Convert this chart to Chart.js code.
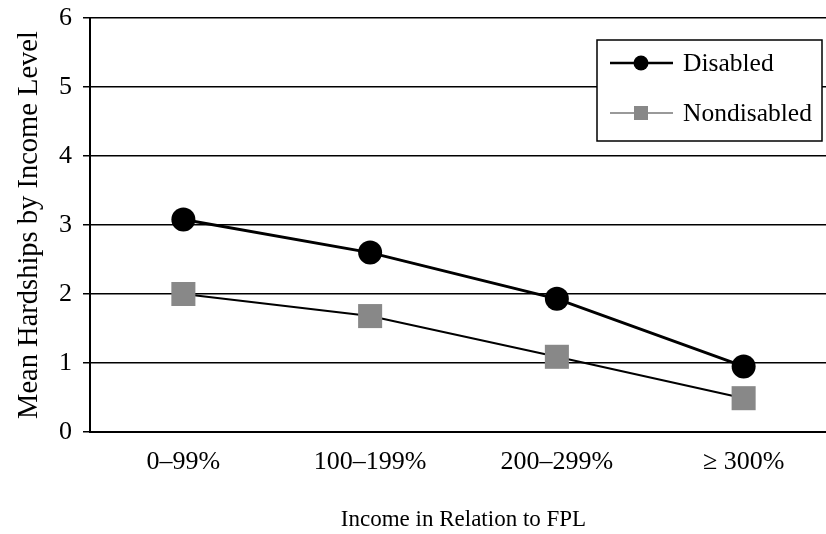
<!DOCTYPE html>
<html>
<head>
<meta charset="utf-8">
<script src="https://cdn.jsdelivr.net/npm/chart.js@4/dist/chart.umd.min.js"></script>
<style>
html,body{margin:0;padding:0;background:#fff;overflow:hidden;width:826px;height:534px;}
#c{display:block;}
</style>
</head>
<body>
<canvas id="c" width="854" height="534"></canvas>
<script>
const categories = ["0\u201399%", "100\u2013199%", "200\u2013299%", "\u2265 300%"];
const disabled = [3.08, 2.60, 1.93, 0.95];
const nondisabled = [2.00, 1.68, 1.09, 0.49];
const seriesNames = ["Disabled", "Nondisabled"];
const yTicks = [0, 1, 2, 3, 4, 5, 6];
const FONT = "'Liberation Serif', 'Times New Roman', serif";

const legendPlugin = {
  id: 'boxLegend',
  afterDraw(chart) {
    const ctx = chart.ctx;
    const x0 = 597, y0 = 40, w = 225, h = 101;
    ctx.save();
    ctx.fillStyle = '#fff';
    ctx.fillRect(x0, y0, w, h);
    ctx.strokeStyle = '#000';
    ctx.lineWidth = 1.5;
    ctx.strokeRect(x0, y0, w, h);
    ctx.font = "25.5px " + FONT;
    ctx.textBaseline = 'middle';
    // Disabled
    ctx.strokeStyle = '#000';
    ctx.lineWidth = 2.5;
    ctx.beginPath(); ctx.moveTo(610, 63); ctx.lineTo(673, 63); ctx.stroke();
    ctx.fillStyle = '#000';
    ctx.beginPath(); ctx.arc(641, 63, 7.5, 0, Math.PI * 2); ctx.fill();
    ctx.fillText(seriesNames[0], 683, 64);
    // Nondisabled
    ctx.strokeStyle = '#999';
    ctx.lineWidth = 2;
    ctx.beginPath(); ctx.moveTo(610, 113); ctx.lineTo(673, 113); ctx.stroke();
    ctx.fillStyle = '#888';
    ctx.fillRect(634, 106, 14, 14);
    ctx.fillStyle = '#000';
    ctx.fillText(seriesNames[1], 683, 114);
    ctx.restore();
  }
};

new Chart(document.getElementById('c'), {
  type: 'line',
  data: {
    labels: categories,
    datasets: [
      {
        label: seriesNames[0],
        data: disabled,
        borderColor: '#000',
        borderWidth: 3,
        backgroundColor: '#000',
        pointBackgroundColor: '#000',
        pointBorderColor: '#000',
        pointStyle: 'circle',
        pointRadius: 12,
        pointBorderWidth: 0,
        tension: 0
      },
      {
        label: seriesNames[1],
        data: nondisabled,
        borderColor: '#000',
        borderWidth: 2,
        backgroundColor: '#888',
        pointBackgroundColor: '#888',
        pointBorderColor: '#888',
        pointStyle: 'rect',
        pointRadius: 17,
        pointBorderWidth: 0,
        tension: 0
      }
    ]
  },
  options: {
    responsive: false,
    maintainAspectRatio: false,
    animation: false,
    devicePixelRatio: 1,
    layout: { padding: { top: 18, left: 0, right: 4, bottom: 0 } },
    plugins: {
      legend: { display: false },
      tooltip: { enabled: false }
    },
    scales: {
      x: {
        offset: true,
        grid: { display: false, drawTicks: false },
        border: { display: true, color: '#000', width: 2 },
        ticks: { color: '#000', font: { family: FONT, size: 26 }, padding: 15, maxRotation: 0 },
        title: { display: true, text: 'Income in Relation to FPL', color: '#000', font: { family: FONT, size: 23 }, padding: { top: 0, bottom: 0 } },
        afterFit(s) { s.height = 102; s.paddingLeft = 0; s.paddingRight = 0; }
      },
      y: {
        min: 0, max: 6,
        afterBuildTicks(s) { s.ticks = yTicks.map(v => ({ value: v })); },
        grid: { color: '#000', lineWidth: 1.5, drawTicks: true, tickLength: 7 },
        border: { display: true, color: '#000', width: 2 },
        ticks: { color: '#000', font: { family: FONT, size: 26 }, padding: 11 },
        title: { display: true, text: 'Mean Hardships by Income Level', color: '#000', font: { family: FONT, size: 28.5 }, padding: { top: 12, bottom: 0 } },
        afterFit(s) { s.width = 90; s.paddingTop = 0; s.paddingBottom = 0; }
      }
    }
  },
  plugins: [legendPlugin]
});
</script>
</body>
</html>
